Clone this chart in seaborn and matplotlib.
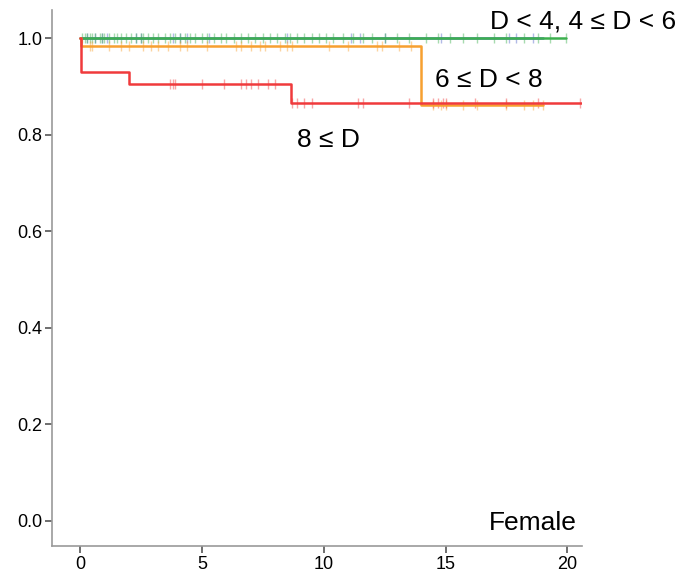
import numpy as np
import pandas as pd
import matplotlib
matplotlib.use("Agg")
import matplotlib.pyplot as plt
import seaborn as sns

# ---- data ----
groups = ["D < 4", "4 ≤ D < 6", "6 ≤ D < 8", "8 ≤ D"]
colors = {"D < 4": "#3cb04e", "4 ≤ D < 6": "#5566c8",
          "6 ≤ D < 8": "#f7a030", "8 ≤ D": "#f03a3c"}

green_t = [0.0, 19.95]
green_s = [1.0, 1.0]
blue_t = [0.0, 19.0]
blue_s = [1.0, 1.0]
orange_t = [0.0, 0.05, 14.0, 19.0]
orange_s = [1.0, 0.983, 0.862, 0.862]
red_t = [0.0, 0.05, 2.0, 8.65, 20.6]
red_s = [1.0, 0.929, 0.904, 0.866, 0.866]

green_cens = [0.1, 0.2, 0.3, 0.4, 0.5, 0.6, 0.8, 0.9, 1.0, 1.2, 1.4, 1.5, 1.7,
              1.9, 2.1, 2.3, 2.5, 2.6, 2.8, 3.0, 3.2, 3.5, 3.7, 3.9, 4.1, 4.3,
              4.5, 4.7, 5.0, 5.2, 5.5, 5.8, 6.0, 6.3, 6.6, 6.9, 7.2, 7.5, 7.8,
              8.1, 8.4, 8.6, 8.9, 9.2, 9.5, 9.8, 10.1, 10.4, 10.8, 11.2, 11.6,
              12.0, 12.5, 13.0, 13.5, 14.2, 14.7, 15.2, 15.7, 16.3, 17.0, 17.5,
              18.2, 18.8, 19.3, 19.95]
blue_cens = [0.3, 0.6, 0.9, 1.1, 2.3, 2.5, 3.8, 4.1, 4.4, 5.3, 8.5, 11.1,
             11.5, 12.5, 14.8, 17.6, 17.9, 18.6]
orange_cens = [0.4, 0.5, 1.2, 1.7, 2.0, 2.6, 2.9, 3.2, 3.6, 4.1, 4.4, 5.2,
               6.4, 6.6, 7.0, 7.4, 7.6, 8.2, 8.5, 8.7, 10.2, 11.0, 12.2, 12.4,
               13.1, 13.6, 14.5, 14.8, 15.0, 15.7, 16.3, 17.5, 18.2, 18.6, 19.0]
red_cens = [3.7, 3.8, 3.9, 5.0, 5.9, 6.6, 6.8, 7.0, 7.3, 7.7, 8.0, 8.7, 8.9,
            9.2, 9.5, 11.4, 11.6, 13.5, 14.5, 14.7, 14.9, 15.0, 16.2, 17.5,
            18.8, 20.5]

curves = {"4 ≤ D < 6": (blue_t, blue_s, blue_cens),
          "D < 4": (green_t, green_s, green_cens),
          "6 ≤ D < 8": (orange_t, orange_s, orange_cens),
          "8 ≤ D": (red_t, red_s, red_cens)}
draw_order = ["4 ≤ D < 6", "D < 4", "6 ≤ D < 8", "8 ≤ D"]

rows, crows = [], []
for g in draw_order:
    t, s, c = curves[g]
    for ti, si in zip(t, s):
        rows.append({"time": ti, "surv": si, "group": g})
    t_arr = np.asarray(t)
    s_arr = np.asarray(s)
    for ci in c:
        idx = np.searchsorted(t_arr, ci, side="right") - 1
        crows.append({"time": ci, "surv": s_arr[idx], "group": g})
df = pd.DataFrame(rows)
cdf = pd.DataFrame(crows)

# ---- plot ----
sns.set_style("white")
plt.rcParams["font.family"] = ["Liberation Sans", "DejaVu Sans"]

fig = plt.figure(figsize=(6.84, 5.73), dpi=100)
ax = fig.add_axes([52 / 684, 1 - 546 / 573, 530 / 684, 536 / 573])

light = {k: matplotlib.colors.to_rgba(v, 0.45) for k, v in colors.items()}
sns.scatterplot(data=cdf, x="time", y="surv", hue="group", hue_order=draw_order,
                palette=light, marker="|", s=50, linewidth=1.0, legend=False,
                ax=ax, zorder=2)
for g in draw_order:
    sns.lineplot(data=df[df.group == g], x="time", y="surv", color=colors[g],
                 drawstyle="steps-post", estimator=None, sort=False,
                 linewidth=1.8, legend=False, ax=ax, zorder=3)

ax.set_xlim(-1.15, 20.6)
ax.set_ylim(-0.052, 1.058)
ax.set_xticks([0, 5, 10, 15, 20])
ax.set_yticks([0.0, 0.2, 0.4, 0.6, 0.8, 1.0])
ax.set_yticklabels(["0.0", "0.2", "0.4", "0.6", "0.8", "1.0"])
ax.set_xlabel("")
ax.set_ylabel("")
for side in ["top", "right"]:
    ax.spines[side].set_visible(False)
for side in ["left", "bottom"]:
    ax.spines[side].set_color("#9a9a9a")
    ax.spines[side].set_linewidth(1.2)
ax.tick_params(axis="both", direction="out", length=5, width=1.2,
               color="#555555", labelsize=13, labelcolor="black", pad=2,
               left=True, bottom=True)

txt = dict(fontsize=19, color="black", transform=ax.transAxes, va="baseline")
ax.text(0.826, 0.966, "D < 4, 4 ≤ D < 6", ha="left", clip_on=False, **txt)
ax.text(0.723, 0.856, "6 ≤ D < 8", ha="left", **txt)
ax.text(0.462, 0.744, "8 ≤ D", ha="left", **txt)
ax.text(0.9906, 0.030, "Female", ha="right", **txt)

fig.savefig("out.png", dpi=100)
